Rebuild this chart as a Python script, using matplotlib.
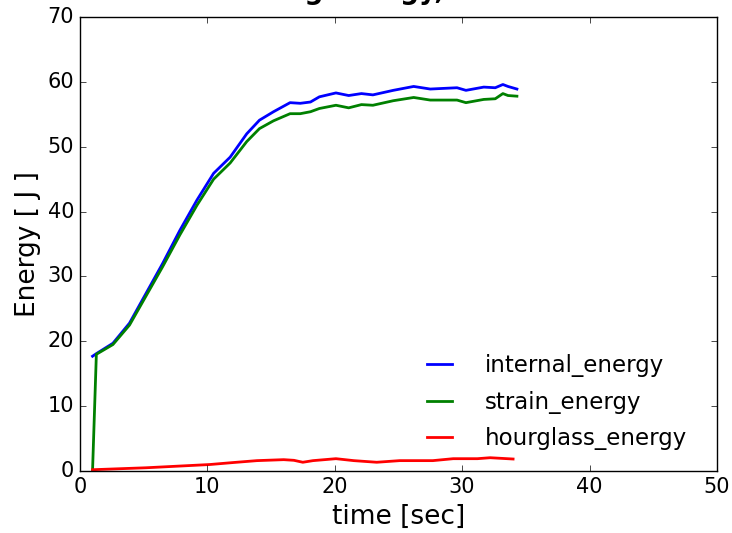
import matplotlib
matplotlib.use('Agg')
import matplotlib.pyplot as plt
import numpy as np

plt.style.use('classic')

# time [sec]
t_int = [1.0, 1.3, 2.6, 3.9, 5.2, 6.5, 7.85, 9.2, 10.5, 11.8, 13.1, 14.1, 15.2,
         16.5, 17.3, 18.1, 18.8, 20.1, 21.1, 22.1, 23.0, 24.6, 26.2, 27.5,
         29.6, 30.3, 31.7, 32.6, 33.2, 33.6, 34.3]
internal_energy = [17.7, 18.1, 19.7, 22.8, 27.4, 32.0, 37.1, 41.8, 45.9, 48.4,
                   52.0, 54.1, 55.4, 56.8, 56.7, 56.9, 57.7, 58.3, 57.9, 58.2,
                   58.0, 58.7, 59.3, 58.9, 59.1, 58.7, 59.2, 59.1, 59.6, 59.3,
                   58.9]

t_str = [1.0, 1.3, 2.6, 3.9, 5.2, 6.5, 7.85, 9.2, 10.5, 11.8, 13.1, 14.1, 15.2,
         16.5, 17.3, 18.1, 18.8, 20.1, 21.1, 22.1, 23.0, 24.6, 26.2, 27.5,
         29.6, 30.3, 31.7, 32.6, 33.2, 33.6, 34.3]
strain_energy = [0.0, 18.0, 19.5, 22.5, 27.0, 31.5, 36.4, 41.0, 45.0, 47.5,
                 50.8, 52.8, 54.0, 55.1, 55.1, 55.4, 55.9, 56.4, 56.0, 56.5,
                 56.4, 57.1, 57.6, 57.2, 57.2, 56.8, 57.3, 57.4, 58.2, 57.9,
                 57.8]

t_hg = [1.0, 5.2, 10.2, 12.0, 13.9, 16.0, 16.8, 17.5, 18.3, 20.1, 21.5, 23.3,
        25.1, 27.7, 29.3, 31.2, 32.2, 34.0]
hourglass_energy = [0.2, 0.5, 1.0, 1.3, 1.6, 1.75, 1.65, 1.35, 1.6, 1.9, 1.6,
                    1.35, 1.6, 1.6, 1.9, 1.9, 2.05, 1.85]

fig = plt.figure(figsize=(7.32, 5.33), dpi=100, facecolor='white')
ax = fig.add_axes([0.109, 0.1163, 0.8705, 0.8517])

ax.plot(t_int, internal_energy, color='b', lw=2, label='internal_energy')
ax.plot(t_str, strain_energy, color='g', lw=2, label='strain_energy')
ax.plot(t_hg, hourglass_energy, color='r', lw=2, label='hourglass_energy')

ax.set_xlim(0, 50)
ax.set_ylim(0, 70)
ax.set_xticks(np.arange(0, 51, 10))
ax.set_yticks(np.arange(0, 71, 10))
ax.tick_params(labelsize=15)
ax.set_xlabel('time [sec]', fontsize=19)
ax.set_ylabel('Energy [ J ]', fontsize=19)

leg = ax.legend(loc='lower right', frameon=False, fontsize=16.5,
                bbox_to_anchor=(0.985, 0.0), handlelength=1.7,
                handletextpad=1.1, labelspacing=0.6)

# title mostly cut off at the top edge of the picture
fig.text(0.505, 1.001, 'Shell Bending Energy, ELFORM 16', ha='center',
         va='baseline', fontsize=19, fontweight='bold')

fig.savefig('out.png', dpi=100, facecolor='white')
